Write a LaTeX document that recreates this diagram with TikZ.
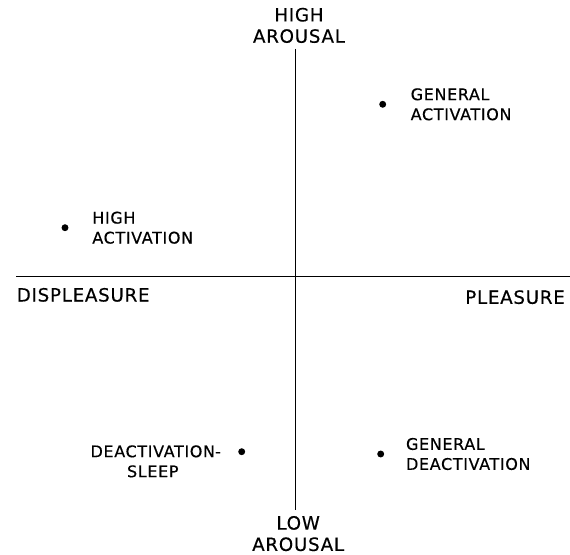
\documentclass[tikz,border=0pt]{standalone}
\usepackage{fontspec}
\usepackage{tikz}
\usetikzlibrary{positioning}
\newfontfamily\lettering[LetterSpace=4,FakeBold=0.4]{DejaVu Sans}

\begin{document}
\begin{tikzpicture}[x=.75pt, y=.75pt,
        axislabel/.style={font={\lettering\fontsize{13.7}{16}\selectfont}, align=center, inner sep=0pt},
        ptlabel/.style={font={\lettering\fontsize{12}{15}\selectfont}, align=left, inner sep=0pt},
        pt/.style={circle, fill, inner sep=0pt, minimum size=5.2pt}]
        \useasboundingbox (-295.5,-277.5) rectangle (274.5,276.5);
        % axes
        \coordinate (dis) at (-279,0);
        \coordinate (ple) at (274.5,0);
        \coordinate (hi) at (0,227.5);
        \coordinate (lo) at (0,-233.5);
        \draw [line width=.9pt] (dis) -- (ple);
        \draw [line width=.9pt] (hi) -- (lo);
        \node [axislabel, above=4.3pt of hi, xshift=2.6pt] (hilabel) {HIGH\\AROUSAL};
        \node [axislabel, below=4.3pt of lo, xshift=2pt] (lolabel) {LOW\\AROUSAL};
        \node [axislabel, below right=8.4pt and 0pt of dis] (dislabel) {DISPLEASURE};
        \node [axislabel, below left=10.1pt and 3.7pt of ple] (plelabel) {PLEASURE};
        % points
        \node [pt] (genact) at (87.2,172.2) {};
        \node [pt] (highact) at (-230.5,48.8) {};
        \node [pt] (gendeact) at (85.2,-177.5) {};
        \node [pt] (sleep) at (-53.8,-175.2) {};
        \node [ptlabel, right=18pt of genact] (genactlabel) {GENERAL\\ACTIVATION};
        \node [ptlabel, right=17.5pt of highact] (highactlabel) {HIGH\\ACTIVATION};
        \node [ptlabel, right=16pt of gendeact] (gendeactlabel) {GENERAL\\DEACTIVATION};
        \node [ptlabel, align=center, left=17pt of sleep, anchor=north east, yshift=5pt] (sleeplabel) {DEACTIVATION\rlap{-}\\SLEEP};
    \end{tikzpicture}
\end{document}
